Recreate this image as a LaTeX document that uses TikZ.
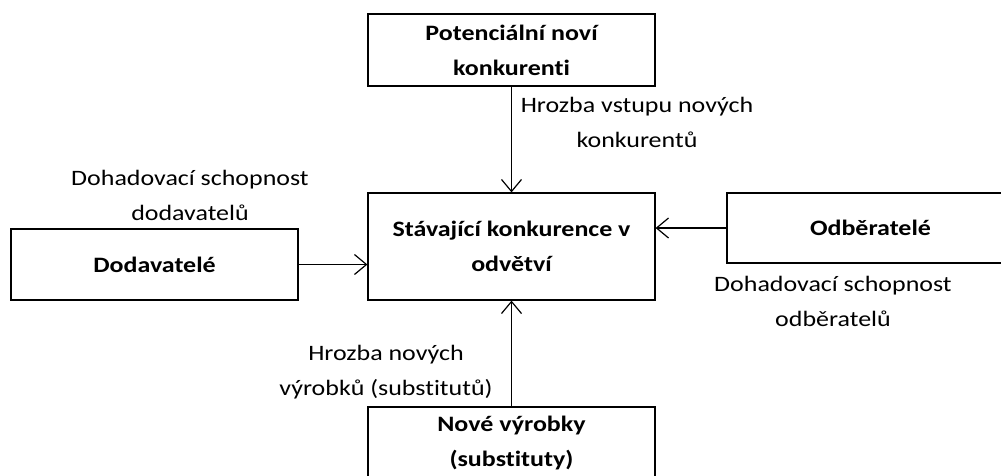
\documentclass[tikz,border=0pt]{standalone}
\usepackage{fontspec}
\setmainfont{Carlito}[FakeStretch=1.18, RawFeature={-liga}]
\usetikzlibrary{arrows.meta}

\begin{document}
\begin{tikzpicture}[x=1pt, y=-1pt]

        % 1. Styles and picture frame
        \tikzset{box/.style={draw, line width=1.2pt, minimum width=287pt, inner sep=0pt, align=center, font=\bfseries\fontsize{22}{35}\selectfont}}
        \tikzset{lbl/.style={inner sep=0pt, align=center, font=\fontsize{22}{35}\selectfont}}
        \tikzset{force/.style={line width=1.2pt, -{Straight Barb[length=12pt, width=20pt, line width=1.2pt]}}}
        \clip (0,0) rectangle (1001,475);

        % 2. The five forces
        \node[box, minimum height=72pt] (newcomers) at (511.5, 50) {Potenciální noví\\konkurenti};
        \node[box, minimum height=107pt] (rivalry) at (511.5, 246.5) {Stávající konkurence v\\odvětví};
        \node[box, minimum height=71pt] (suppliers) at (154.5, 264.5) {Dodavatelé};
        \node[box, minimum height=70pt] (buyers) at (870.5, 228) {Odběratelé};
        \node[box, minimum height=72pt] (substitutes) at (511.5, 443) {Nové výrobky\\(substituty)};

        % 3. Arrows towards the rivalry box
        \draw[force] (newcomers) -- (rivalry);
        \draw[force] (suppliers.east) -- (suppliers.east -| rivalry.west);
        \draw[force] (buyers.west) -- (buyers.west -| rivalry.east);
        \draw[force] (substitutes) -- (rivalry);

        % 4. Labels of the arrows
        \node[lbl] (threatnew) at (637, 122) {Hrozba vstupu nových\\konkurentů};
        \node[lbl] (powersup) at (190, 195) {Dohadovací schopnost\\dodavatelů};
        \node[lbl] (powerbuy) at (833, 301) {Dohadovací schopnost\\odběratelů};
        \node[lbl] (threatsub) at (386, 372) {Hrozba nových\\výrobků (substitutů)};

\end{tikzpicture}
\end{document}
